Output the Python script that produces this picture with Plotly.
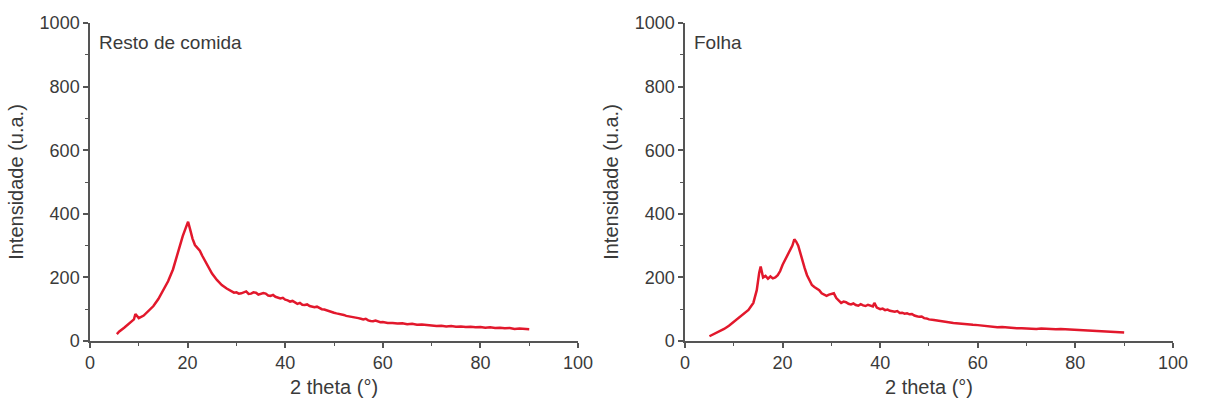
import plotly.graph_objects as go
from plotly.subplots import make_subplots

# X-ray diffraction patterns: intensity vs 2 theta
resto_theta = [5.5, 6, 7, 8, 9, 9.3, 10, 11, 12, 13, 14, 15, 16, 17, 18, 19,
               19.6, 20.1, 20.5, 21, 21.5, 22, 22.5, 23, 24, 25, 26, 27,
               28, 28.5, 29, 29.5, 30, 30.5, 31, 31.5, 32, 32.5, 33, 33.5, 34, 34.5,
               35, 35.5, 36, 36.5, 37, 37.5, 38, 38.5, 39, 39.5, 40, 40.5, 41, 41.5,
               42, 42.5, 43, 43.5, 44, 44.5, 45, 45.5, 46, 46.5, 47, 47.5, 48, 48.5,
               49, 49.5, 50, 50.5, 51, 51.5, 52, 52.5, 53, 53.5, 54, 54.5, 55, 55.5,
               56, 56.5, 57, 57.5, 58, 58.5, 59, 59.5, 60,
               61, 62, 63, 64, 65, 66, 67, 68, 69, 70, 71, 72, 73, 74, 75, 76,
               77, 78, 79, 80, 81, 82, 83, 84, 85, 86, 87, 88, 89, 90]
resto_int = [22, 30, 42, 55, 68, 85, 72, 80, 94, 110, 132, 158, 188, 225, 280, 330,
             355, 375, 352, 322, 302, 292, 284, 268, 240, 212, 192, 176,
             165, 160, 157, 152, 153, 149, 150, 154, 156, 148, 149, 153, 152, 146,
             148, 151, 149, 143, 142, 145, 139, 137, 134, 136, 130, 128, 124, 126,
             121, 117, 120, 114, 113, 115, 110, 107, 106, 108, 104, 100, 99, 96,
             94, 90, 89, 87, 86, 83, 82, 79, 78, 76, 75, 73, 72, 70,
             68, 70, 65, 63, 62, 64, 61, 59, 60,
             57, 57, 55, 56, 53, 54, 51, 52, 50, 50, 47, 48, 46, 47, 45, 46,
             44, 45, 43, 44, 42, 43, 41, 42, 40, 41, 38, 39, 37, 37]

folha_theta = [5, 6, 7, 8, 9, 10, 11, 12, 13, 14, 14.7, 15.2, 15.5, 16, 16.5, 17,
               17.5, 18, 18.5, 19, 19.5, 20, 20.5, 21, 21.5, 22, 22.4, 22.8, 23.2,
               23.6, 24, 24.5, 25, 25.5, 26, 26.5, 27, 27.5, 28, 28.5, 29, 29.5, 30,
               30.5, 31, 31.5, 32, 32.5, 33, 33.5, 34, 34.5, 35, 35.5, 36, 36.5, 37,
               37.5, 38, 38.5, 38.8, 39.3, 40, 40.5, 41, 41.5, 42, 42.5, 43, 43.5,
               44, 44.5, 45, 45.5, 46, 46.5, 47, 47.5, 48, 48.5, 49, 49.5, 50,
               51, 52, 53, 54, 55, 56, 57, 58, 59, 60, 61, 62, 63, 64, 65, 66, 67,
               68, 69, 70, 71, 72, 73, 74, 75, 76, 77, 78, 79, 80, 81, 82, 83, 84,
               85, 86, 87, 88, 89, 90]
folha_int = [15, 22, 30, 38, 48, 60, 72, 85, 98, 120, 160, 215, 234, 200, 205, 196,
             203, 197, 200, 207, 220, 240, 255, 270, 285, 300, 320, 312, 300,
             276, 255, 230, 207, 190, 176, 170, 165, 160, 150, 146, 142, 146, 148,
             150, 135, 128, 120, 124, 122, 117, 115, 118, 113, 111, 116, 112, 110,
             114, 112, 109, 120, 105, 100, 102, 97, 99, 95, 93, 92, 94,
             88, 89, 86, 87, 84, 85, 80, 78, 76, 77, 72, 71, 68,
             66, 63, 62, 59, 57, 55, 54, 52, 51, 50, 48, 47, 45, 43, 44, 42, 41,
             40, 40, 39, 38, 38, 39, 38, 37, 37, 38, 37, 36, 36, 35, 34, 34, 33,
             32, 31, 30, 29, 28, 27]

panel_labels = ["Resto de comida", "Folha"]

LINE_RED = "rgb(226,24,44)"
AXIS_GREY = "#555555"
TEXT_GREY = "#3a3a3a"
FONT = "Liberation Sans, Arial, sans-serif"

fig = make_subplots(rows=1, cols=2)

for col, (tx, iy) in enumerate([(resto_theta, resto_int), (folha_theta, folha_int)], start=1):
    fig.add_trace(go.Scatter(x=tx, y=iy, mode="lines",
                             line=dict(color=LINE_RED, width=2.5),
                             showlegend=False), row=1, col=col)

axis_common = dict(showline=True, linecolor=AXIS_GREY, linewidth=1.5,
                   ticks="outside", ticklen=5, tickwidth=1.5, tickcolor=AXIS_GREY,
                   showgrid=False, zeroline=False, automargin=False,
                   tickfont=dict(family=FONT, size=18, color=TEXT_GREY))

x_domains = [[0.0747, 0.4797], [0.5685, 0.9734]]
y_domain = [0.1538, 0.9429]

for i in range(2):
    fig.update_xaxes(range=[0, 100], dtick=20, domain=x_domains[i],
                     minor=dict(dtick=10, ticks="outside", ticklen=3,
                                tickcolor=AXIS_GREY, tickwidth=1.2),
                     title=dict(text="2 theta (°)", standoff=8,
                                font=dict(family=FONT, size=20, color=TEXT_GREY)),
                     **axis_common, row=1, col=i + 1)
    fig.update_yaxes(range=[0, 1000], dtick=200, domain=y_domain,
                     minor=dict(dtick=100, ticks="outside", ticklen=3,
                                tickcolor=AXIS_GREY, tickwidth=1.2),
                     title=dict(text="Intensidade (u.a.)", standoff=11,
                                font=dict(family=FONT, size=20, color=TEXT_GREY)),
                     **axis_common, row=1, col=i + 1)

for i, label in enumerate(panel_labels):
    xref = "x domain" if i == 0 else "x2 domain"
    yref = "y domain" if i == 0 else "y2 domain"
    fig.add_annotation(text=label, x=0.015, y=0.94, xref=xref, yref=yref,
                       xanchor="left", yanchor="middle", showarrow=False,
                       font=dict(family=FONT, size=19, color=TEXT_GREY))

fig.update_layout(width=1205, height=403,
                  margin=dict(l=0, r=0, t=0, b=0),
                  paper_bgcolor="white", plot_bgcolor="white")

fig.write_html("out.html")
